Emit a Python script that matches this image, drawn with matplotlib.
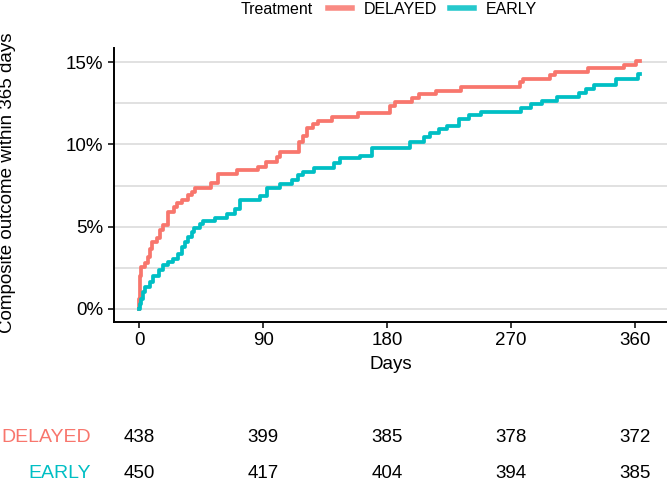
import matplotlib
matplotlib.use('Agg')
import matplotlib.pyplot as plt
import matplotlib.transforms as mtransforms
from matplotlib.lines import Line2D
from matplotlib.ticker import MultipleLocator, FuncFormatter

plt.rcParams['font.family'] = ['Liberation Sans', 'DejaVu Sans']

# Cumulative incidence steps (days, percent)
delayed_days = [0, 0.2, 0.5, 1.7, 4.1, 6.5, 7.7, 9.7, 12.7, 15.1, 17.5, 21.1, 25.2, 27.7,
                30.8, 35.7, 38.1, 40.5, 51.9, 57.5, 70.8, 86.6, 92, 100, 102.4, 116.2,
                118.9, 121.8, 125.9, 130.2, 140, 158.6, 182.4, 186, 198.2, 203, 215.6,
                233.8, 276.3, 278.7, 298.3, 302, 326, 351.7, 360.7, 364]
delayed_pct = [0, 0.61, 2.03, 2.54, 2.78, 3.15, 3.66, 4.07, 4.31, 4.78, 5.08, 5.9, 6.2, 6.41,
               6.65, 6.92, 7.12, 7.33, 7.63, 8.2, 8.44, 8.64, 8.91, 9.22, 9.56, 10.17,
               10.54, 10.99, 11.23, 11.45, 11.66, 11.9, 12.31, 12.61, 12.82, 13.06, 13.28,
               13.49, 13.83, 13.98, 14.2, 14.41, 14.63, 14.85, 15.05, 15.05]

early_days = [0, 0.5, 1.7, 2.9, 4.1, 7.7, 10.2, 14.6, 17.5, 21.1, 24.7, 28.4, 30.8, 33.3,
              35.7, 38.1, 40, 44.2, 46.6, 55.1, 63.6, 69.6, 73.3, 87.8, 92.7, 102.4, 110.9,
              115.7, 119.3, 126.6, 141.2, 146, 160.6, 169, 197, 206.6, 211.5, 217.6, 223.7,
              232.1, 239.4, 247.9, 277, 284.3, 292.8, 303.7, 319.4, 324.3, 330.3, 346.1,
              361.9, 363.6]
early_pct = [0, 0.3, 0.61, 1.01, 1.32, 1.62, 1.97, 2.38, 2.64, 2.85, 3.05, 3.36, 3.76, 4.07,
             4.37, 4.68, 4.92, 5.19, 5.33, 5.53, 5.8, 6.1, 6.61, 6.86, 7.33, 7.59, 7.83,
             8.14, 8.34, 8.55, 8.89, 9.16, 9.3, 9.77, 10.17, 10.48, 10.72, 10.93, 11.13,
             11.56, 11.8, 12.0, 12.21, 12.45, 12.67, 12.88, 13.12, 13.35, 13.6, 14.0,
             14.26, 14.26]

# number at risk table
risk_times = [0, 90, 180, 270, 360]
delayed_risk = [438, 399, 385, 378, 372]
early_risk = [450, 417, 404, 394, 385]

x_ticks = [0, 90, 180, 270, 360]
groups = ['DELAYED', 'EARLY']
colors = {'DELAYED': '#F8766D', 'EARLY': '#00BFC4'}

fs = 13.5
fs_leg = 11.5
fs_tab = 14
W, H = 667, 483
fig = plt.figure(figsize=(W / 100, H / 100), dpi=100)
ax = fig.add_axes([114 / W, 1 - 321.7 / H, 1 - 114 / W, (321.7 - 48.3) / H])

ax.step(delayed_days, delayed_pct, where='post', color=colors['DELAYED'], lw=2.7)
ax.step(early_days, early_pct, where='post', color=colors['EARLY'], lw=2.7)

ax.set_xlim(-18.25, 383.25)
ax.set_ylim(-0.78, 15.85)
ax.set_xticks(x_ticks)
ax.yaxis.set_major_locator(MultipleLocator(5))
ax.yaxis.set_minor_locator(MultipleLocator(2.5))
ax.yaxis.set_major_formatter(FuncFormatter(lambda v, p: '%d%%' % v))
ax.grid(axis='y', which='both', color='#D9D9D9', lw=1.1)
ax.set_axisbelow(True)

for s in ['top', 'right']:
    ax.spines[s].set_visible(False)
for s in ['left', 'bottom']:
    ax.spines[s].set_linewidth(1.4)
ax.tick_params(which='major', labelsize=fs, length=4.5, width=1.1, pad=3, colors='black')
ax.tick_params(which='minor', length=0)

ax.set_xlabel('Days', fontsize=fs, labelpad=5)
ax.set_ylabel('Composite outcome within 365 days', fontsize=fs)
ax.yaxis.set_label_coords(-0.178, 0.51)

# legend on top
fig.text(241 / W, 1 - 9 / H, 'Treatment', fontsize=fs_leg, ha='left', va='center')
handles = [Line2D([], [], color=colors[g], lw=4, alpha=0.85) for g in groups]
fig.legend(handles, groups, ncol=2, loc='center left', bbox_to_anchor=(328 / W, 1 - 9 / H),
           frameon=False, fontsize=fs_leg, handlelength=1.5, handletextpad=0.75,
           columnspacing=0.8, borderaxespad=0, borderpad=0)

# risk table
trans = mtransforms.blended_transform_factory(ax.transData, fig.transFigure)
row_y = {'DELAYED': 1 - 437 / H, 'EARLY': 1 - 474 / H}
counts = {'DELAYED': delayed_risk, 'EARLY': early_risk}
for g in groups:
    fig.text(91 / W, row_y[g], g, color=colors[g], fontsize=fs_tab, ha='right', va='center')
    for t, n in zip(risk_times, counts[g]):
        ax.text(t, row_y[g], str(n), transform=trans, fontsize=fs, ha='center', va='center',
                clip_on=False)

fig.savefig('out.png', dpi=100)
